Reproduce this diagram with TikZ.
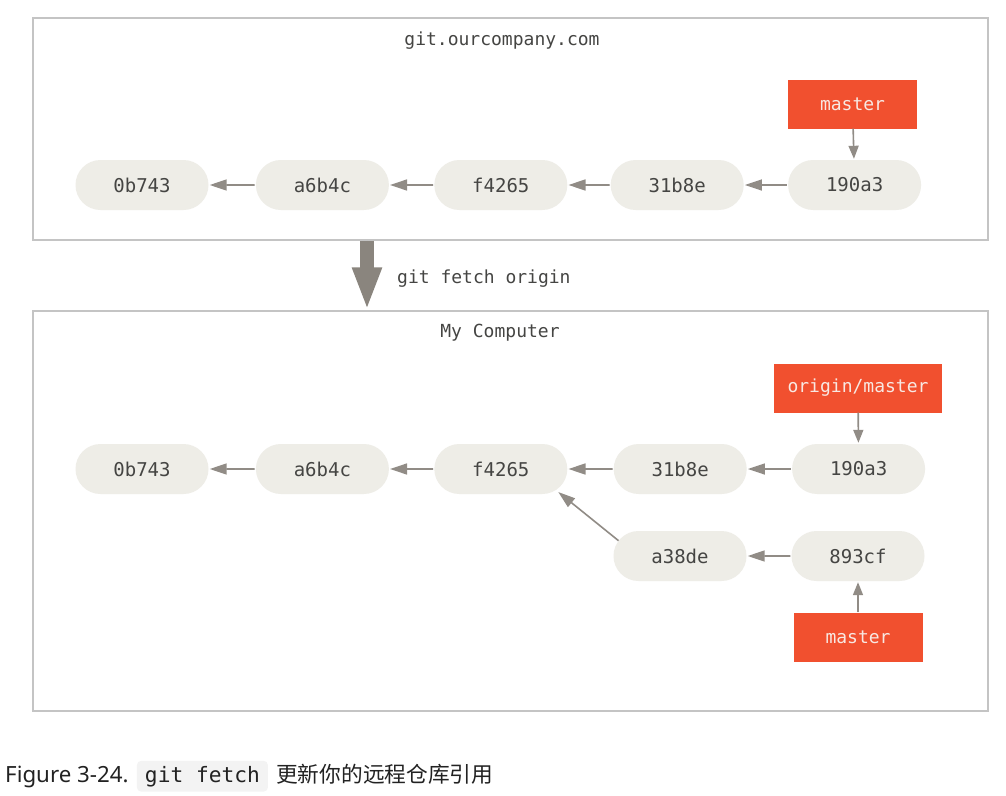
\documentclass[tikz,border=0pt]{standalone}
\usepackage{fontspec}
\setmainfont{Noto Sans}
\setmonofont{DejaVu Sans Mono}
\newfontfamily\cjk{Noto Sans CJK SC}
\usepackage{xcolor}
\usetikzlibrary{positioning,arrows.meta,shapes.misc}
\definecolor{commitfill}{HTML}{EEEDE7}
\definecolor{committext}{HTML}{454543}
\definecolor{branchred}{HTML}{F1502F}
\definecolor{branchtext}{HTML}{F8E8E2}
\definecolor{repoline}{HTML}{C4C4C4}
\definecolor{linkgray}{HTML}{918C86}
\definecolor{fetchgray}{HTML}{8A857E}
\definecolor{captext}{HTML}{222222}
\definecolor{codefill}{HTML}{F3F3F3}

\begin{document}
\begin{tikzpicture}[x=1pt,y=-1pt,node distance=46pt,
	commit/.style={rounded rectangle,fill=commitfill,minimum width=133pt,minimum height=50pt,inner sep=0pt,text=committext,font=\fontsize{19}{22}\ttfamily},
	branch/.style={rectangle,fill=branchred,minimum height=49pt,inner xsep=12pt,text=branchtext,font=\fontsize{18}{22}\ttfamily},
	repo/.style={draw=repoline,line width=1.5pt,fill=white},
	title/.style={text=committext,font=\fontsize{18}{22}\ttfamily},
	link/.style={-{Triangle[length=17pt,width=11pt]},draw=linkgray,fill=linkgray,line width=1.6pt,shorten <=1pt,shorten >=1pt},
	fetch/.style={-{Triangle[length=43pt,width=27pt]},draw=fetchgray,fill=fetchgray,line width=14pt}]
	\useasboundingbox (0,0) rectangle (1006,795);

	% the remote repository
	\node[repo,minimum width=955pt,minimum height=222pt] (remote) at (510.5,129) {};
	\node[title] (remotename) at (502,41) {git.ourcompany.com};
	\node[commit] (r0) at (142,185) {0b743};
	\node[commit] (r1) [right=47pt of r0] {a6b4c};
	\node[commit] (r2) [right=45pt of r1] {f4265};
	\node[commit] (r3) [right=43pt of r2] {31b8e};
	\node[commit] (r4) [right=44pt of r3] {190a3};
	\node[branch,minimum width=129pt] (rmaster) at (852.5,104) {master};

	\draw[link] (r1) -- (r0);
	\draw[link] (r2) -- (r1);
	\draw[link] (r3) -- (r2);
	\draw[link] (r4) -- (r3);
	\draw[link,-{Triangle[length=13pt,width=10pt]},shorten <=0pt] (rmaster) -- (r4);

	% the fetch
	\node[repo,minimum width=955pt,minimum height=400pt] (local) at (510.5,511) {};
	\coordinate (fetchx) at (367,0);
	\draw[fetch] (remote.south -| fetchx) -- (local.north -| fetchx);
	\node[title,anchor=west,inner sep=0pt] (fetchlabel) at (397,279) {git fetch origin};

	% my computer
	\node[title] (localname) at (500,333) {My Computer};
	\node[commit] (l0) at (142,469) {0b743};
	\node[commit] (l1) [right=47pt of l0] {a6b4c};
	\node[commit] (l2) [right=45pt of l1] {f4265};
	\node[commit] (l3) [right=46pt of l2] {31b8e};
	\node[commit] (l4) [right=45pt of l3] {190a3};
	\node[commit] (l5) at (680,556) {a38de};
	\node[commit] (l6) at (858,556) {893cf};
	\node[branch,minimum width=168pt] (origin) at (858,388) {origin/master};
	\node[branch,minimum width=129pt] (lmaster) at (858,637) {master};

	\draw[link] (l1) -- (l0);
	\draw[link] (l2) -- (l1);
	\draw[link] (l3) -- (l2);
	\draw[link] (l4) -- (l3);
	\draw[link] (l6) -- (l5);
	\draw[link,shorten <=0pt,shorten >=3pt] (l5.166) -- (l2.-21);
	\draw[link,-{Triangle[length=13pt,width=10pt]},shorten <=0pt] (origin) -- (l4);
	\draw[link,-{Triangle[length=13pt,width=10pt]},shorten <=0pt] (lmaster) -- (l6);

	% caption
	\node[anchor=base west,inner sep=0pt,text=captext,font=\fontsize{22.3}{26}\selectfont] (figlabel) at (5,782) {Figure 3-24.};
	\node[anchor=base west,fill=codefill,rounded corners=4pt,inner xsep=8pt,inner ysep=5pt,text=captext,font=\fontsize{21.2}{25}\ttfamily] (figcode) at ([xshift=8pt]figlabel.base east) {git fetch};
	\node[anchor=base west,inner sep=0pt,text=captext,font=\fontsize{21.7}{25}\cjk] (figtext) at ([xshift=8pt]figcode.base east) {更新你的远程仓库引用};
\end{tikzpicture}
\end{document}
